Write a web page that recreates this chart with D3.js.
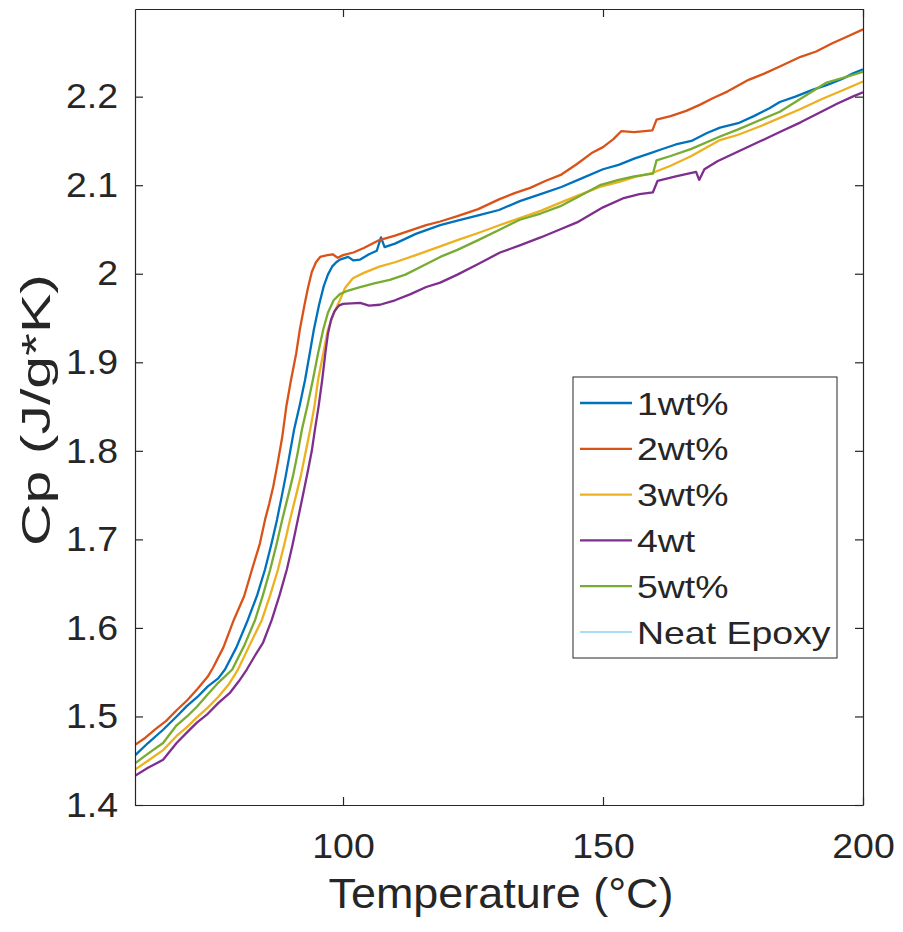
<!DOCTYPE html>
<html>
<head>
<meta charset="utf-8">
<script src="https://cdn.jsdelivr.net/npm/d3@7"></script>
<style>
  html, body { margin: 0; padding: 0; background: #fff; }
  svg { display: block; }
  text { font-family: "Liberation Sans", Arial, Helvetica, sans-serif; fill: #262626; }
</style>
</head>
<body>
<svg id="chart" width="903" height="932"></svg>
<script>
// ---------------- DATA ----------------
const seriesNames = ["1wt%", "2wt%", "3wt%", "4wt", "5wt%", "Neat Epoxy"];
const seriesColors = ["#0072BD", "#D95319", "#EDB120", "#7E2F8E", "#77AC30", "#4DBEEE"];

const xTicks = [100, 150, 200];
const yTicks = [1.4, 1.5, 1.6, 1.7, 1.8, 1.9, 2.0, 2.1, 2.2];
const yTickLabels = ["1.4", "1.5", "1.6", "1.7", "1.8", "1.9", "2", "2.1", "2.2"];

// [Temperature (°C), Cp (J/g*K)]
const wt1 = [[60,1.456],[62.5,1.470],[65.4,1.485],[68,1.500],[70,1.512],[72,1.522],[74,1.534],[76,1.543],[77.3,1.553],[79.5,1.578],[81.7,1.609],[83.5,1.637],[85,1.666],[86.2,1.694],[87.3,1.722],[88.2,1.748],[89.0,1.772],[89.8,1.798],[90.6,1.824],[91.7,1.852],[92.7,1.880],[93.6,1.910],[94.4,1.937],[95.4,1.965],[96.3,1.986],[97.1,1.999],[97.9,2.008],[98.7,2.013],[99.4,2.016],[101,2.019],[102,2.015],[103.3,2.016],[105,2.022],[106.5,2.026],[107.3,2.041],[108,2.030],[110,2.034],[114,2.045],[118.7,2.055],[122,2.060],[126,2.066],[130,2.072],[134,2.082],[138,2.090],[142,2.098],[146,2.108],[150,2.118],[153,2.123],[156,2.130],[159,2.136],[161,2.140],[164,2.146],[167,2.150],[170,2.159],[172.5,2.165],[176,2.170],[179,2.178],[182,2.187],[184,2.194],[187,2.200],[190.4,2.208],[193,2.213],[196,2.220],[198,2.226],[200,2.231]];

const wt2 = [[60,1.468],[62,1.476],[64,1.486],[66,1.495],[68,1.507],[70,1.518],[72,1.531],[74,1.545],[75,1.555],[77,1.578],[79,1.609],[81,1.636],[82.5,1.666],[84,1.695],[85,1.722],[85.8,1.740],[86.6,1.760],[87.4,1.785],[88.3,1.815],[89.1,1.850],[90,1.880],[91,1.910],[91.7,1.937],[92.6,1.965],[93.3,1.985],[94.0,2.002],[94.8,2.013],[95.6,2.019],[97,2.021],[98,2.022],[99,2.018],[100,2.021],[102,2.024],[104,2.029],[107,2.038],[110,2.043],[113,2.049],[116,2.055],[118.7,2.059],[122,2.065],[126,2.073],[130,2.084],[133,2.091],[136,2.097],[139,2.105],[142,2.112],[145,2.124],[148,2.137],[150,2.143],[152,2.152],[153.5,2.161],[156,2.160],[159.5,2.162],[160.3,2.174],[163,2.178],[166,2.184],[168.7,2.191],[171,2.198],[174,2.206],[178,2.219],[181,2.226],[184,2.234],[188,2.245],[191,2.251],[194,2.260],[197,2.268],[200,2.276]];

const wt3 = [[60,1.440],[62.5,1.450],[65.4,1.462],[68,1.478],[70,1.488],[71.9,1.499],[74,1.510],[76,1.522],[78,1.536],[79.8,1.553],[82,1.580],[84.4,1.609],[86,1.637],[87.5,1.666],[88.7,1.694],[89.8,1.722],[90.9,1.748],[91.9,1.772],[92.8,1.798],[93.7,1.824],[94.5,1.850],[95.2,1.880],[96.2,1.910],[97.1,1.937],[98.2,1.955],[99.4,1.970],[100.4,1.984],[101.9,1.995],[104,2.001],[107,2.008],[110,2.013],[114,2.021],[118.7,2.031],[122,2.038],[126,2.046],[130.2,2.055],[134,2.063],[138,2.071],[141.7,2.080],[145,2.088],[149.4,2.098],[153.3,2.104],[156,2.109],[159.6,2.114],[163,2.122],[167,2.133],[172.5,2.151],[176,2.157],[180,2.166],[184,2.176],[188,2.186],[192,2.197],[196,2.207],[200,2.217]];

const wt4 = [[60,1.433],[62.5,1.442],[65.4,1.451],[68,1.470],[70,1.482],[71.9,1.493],[74,1.503],[76,1.515],[78.3,1.527],[80,1.540],[81.5,1.553],[83,1.568],[84.6,1.583],[86.3,1.609],[87.8,1.637],[89.2,1.666],[90.3,1.694],[91.3,1.722],[92.3,1.750],[93.3,1.779],[94.0,1.800],[94.6,1.824],[95.3,1.850],[96,1.880],[96.6,1.910],[97.1,1.932],[97.7,1.948],[98.4,1.958],[99.2,1.964],[100,1.966],[103.3,1.967],[105,1.964],[107.1,1.965],[110,1.970],[113,1.977],[116,1.985],[118.7,1.990],[122,1.999],[126,2.011],[130.2,2.024],[134,2.032],[138,2.041],[141.7,2.050],[145,2.058],[150,2.075],[153.8,2.085],[157,2.090],[159.6,2.092],[160.5,2.105],[164,2.110],[167.9,2.115],[168.5,2.106],[169.5,2.118],[172,2.127],[176,2.138],[180,2.149],[184,2.160],[188,2.171],[191.7,2.182],[195,2.192],[198,2.200],[200,2.205]];

const wt5 = [[60,1.447],[62.5,1.458],[65.4,1.470],[68,1.490],[70,1.500],[71.9,1.511],[74,1.525],[76,1.538],[78.7,1.553],[81,1.580],[83.1,1.609],[84.6,1.637],[86,1.666],[87.2,1.694],[88.3,1.722],[89.4,1.748],[90.4,1.772],[91.3,1.798],[92.1,1.824],[93.2,1.852],[94.2,1.880],[95.2,1.910],[96.2,1.937],[97.1,1.956],[98.2,1.970],[99.4,1.977],[101,1.981],[103.3,1.985],[106,1.989],[109,1.993],[112,1.999],[115,2.008],[118.7,2.019],[122,2.027],[126,2.038],[130.2,2.050],[134,2.061],[138,2.068],[141.7,2.076],[145,2.086],[149.4,2.100],[153,2.106],[156,2.110],[159.6,2.113],[160.3,2.128],[163,2.133],[167,2.141],[172.5,2.155],[176,2.163],[180,2.173],[184,2.183],[187,2.194],[190,2.205],[193,2.216],[196,2.221],[200,2.228]];

const neatEpoxy = []; // listed in the legend, not visible in the plot area

const seriesData = [wt1, wt2, wt3, wt4, wt5, neatEpoxy];
const seriesWidths = [2.3, 2.3, 2.3, 2.3, 2.3, 1.2];

// ---------------- LAYOUT ----------------
const svg = d3.select("#chart");
const L = 135, R = 863, T = 9, B = 805;

const x = d3.scaleLinear().domain([60, 200]).range([L, R]);
const y = d3.scaleLinear().domain([1.4, 2.299]).range([B, T]);

const axisColor = "#262626";
const tickLen = 8;

// horizontally widen text (reference glyphs are wider than Liberation Sans)
function stretch(sel, f) {
  sel.each(function () {
    const w = this.getComputedTextLength();
    if (w > 0) d3.select(this).attr("textLength", w * f).attr("lengthAdjust", "spacingAndGlyphs");
  });
}

// lines (clip to the plot box)
svg.append("clipPath").attr("id", "clip")
  .append("rect").attr("x", L).attr("y", T).attr("width", R - L).attr("height", B - T);

const line = d3.line().x(d => x(d[0])).y(d => y(d[1]));
const gLines = svg.append("g").attr("clip-path", "url(#clip)");
seriesData.forEach((s, i) => {
  if (!s.length) return;
  gLines.append("path")
    .datum(s)
    .attr("d", line)
    .attr("fill", "none")
    .attr("stroke", seriesColors[i])
    .attr("stroke-width", seriesWidths[i])
    .attr("stroke-linejoin", "round");
});

// axes (MATLAB style box, inward ticks on all sides)
const fmtY = d => yTickLabels[yTicks.indexOf(d)];
const axB = d3.axisBottom(x).tickValues(xTicks).tickSizeInner(-tickLen).tickSizeOuter(0).tickPadding(28);
const axT = d3.axisTop(x).tickValues(xTicks).tickSizeInner(-tickLen).tickSizeOuter(0).tickFormat("");
const axL = d3.axisLeft(y).tickValues(yTicks).tickSizeInner(-tickLen).tickSizeOuter(0).tickPadding(17).tickFormat(fmtY);
const axR = d3.axisRight(y).tickValues(yTicks).tickSizeInner(-tickLen).tickSizeOuter(0).tickFormat("");

function style(g) {
  g.select(".domain").attr("stroke", axisColor).attr("stroke-width", 1.2);
  g.selectAll(".tick line").attr("stroke", axisColor).attr("stroke-width", 1.2);
  g.selectAll(".tick text").attr("fill", axisColor)
    .style("font-family", '"Liberation Sans", Arial, sans-serif').style("font-size", "35px");
}
const gB = svg.append("g").attr("transform", `translate(0,${B})`).call(axB).call(style);
svg.append("g").attr("transform", `translate(0,${T})`).call(axT).call(style);
const gL = svg.append("g").attr("transform", `translate(${L},0)`).call(axL).call(style);
svg.append("g").attr("transform", `translate(${R},0)`).call(axR).call(style);
stretch(gB.selectAll(".tick text"), 1.07);
stretch(gL.selectAll(".tick text"), 1.07);

// axis labels
svg.append("text")
  .attr("x", (L + R) / 2 + 2).attr("y", 908)
  .attr("text-anchor", "middle")
  .style("font-size", "42px")
  .text("Temperature (°C)")
  .attr("textLength", 345).attr("lengthAdjust", "spacingAndGlyphs");

svg.append("text")
  .attr("transform", `translate(50,410) rotate(-90)`)
  .attr("text-anchor", "middle")
  .style("font-size", "40px")
  .text("Cp (J/g*K)")
  .attr("textLength", 272).attr("lengthAdjust", "spacingAndGlyphs");

// legend
const lg = svg.append("g");
lg.append("rect")
  .attr("x", 573).attr("y", 377).attr("width", 264).attr("height", 281)
  .attr("fill", "#fff").attr("stroke", axisColor).attr("stroke-width", 1);
const rowY0 = 403, rowStep = 45.8;
seriesNames.forEach((name, i) => {
  const yy = rowY0 + i * rowStep;
  lg.append("line")
    .attr("x1", 580).attr("x2", 632).attr("y1", yy).attr("y2", yy)
    .attr("stroke", seriesColors[i]).attr("stroke-width", seriesWidths[i]);
  lg.append("text")
    .attr("x", 637).attr("y", yy).attr("dy", "0.36em")
    .style("font-size", "32px")
    .text(name);
});
stretch(lg.selectAll("text"), 1.17);
</script>
</body>
</html>
